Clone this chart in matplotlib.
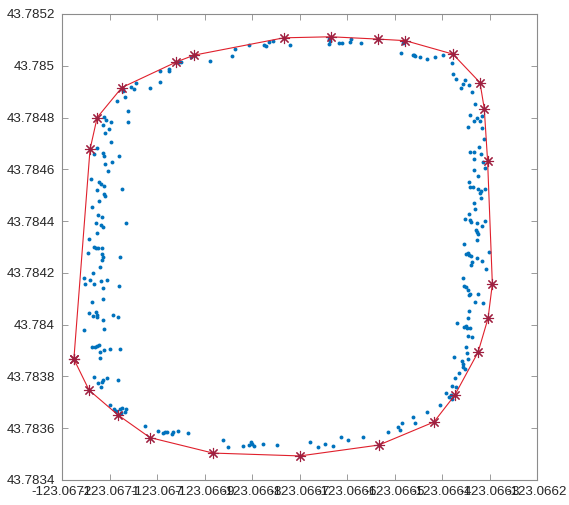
import numpy as np
import matplotlib
matplotlib.use("Agg")
import matplotlib.pyplot as plt

# GPS points around a block, offsets in 1e-6 degree from the lower-left corner
lon0 = -123.0672
lat0 = 43.7834

# left side
left_dlon = [128, 128, 145, 152, 156, 133, 116, 139, 139, 88, 93, 103, 86, 99, 91, 103,
             74, 67, 86, 88, 120, 105, 91, 97, 61, 78, 82, 88, 74, 88, 91, 78, 126,
             63, 76, 84, 72, 82, 86, 74, 135, 57, 55, 67, 72, 76, 84, 84, 86, 84, 80, 122,
             65, 46, 48, 59, 67, 82, 95, 86, 120, 63, 86, 57, 72, 74, 65, 74, 86, 107, 118,
             46, 88, 63, 69, 78, 74, 88, 80, 101, 122, 80, 67, 76, 86, 84, 95, 82, 118,
             101, 109, 114, 122, 126, 135, 133, 124]
left_dlat = [1510, 1502, 1517, 1510, 1533, 1479, 1463, 1425, 1382, 1402, 1390, 1382, 1371, 1355, 1340, 1305,
             1282, 1259, 1263, 1251, 1251, 1228, 1220, 1193, 1162, 1151, 1143, 1135, 1120, 1104, 1097, 1077, 1124,
             1054, 1023, 1015, 992, 985, 977, 954, 992, 931, 876, 900, 896, 896, 896, 873, 861, 849, 822, 861,
             799, 780, 757, 772, 757, 768, 772, 741, 749, 687, 699, 645, 649, 637, 633, 629, 618, 637, 629,
             579, 583, 514, 514, 521, 517, 502, 494, 506, 506, 471, 398, 375, 386, 378, 394, 359, 386,
             290, 274, 266, 274, 278, 274, 263, 259]

# bottom side
bottom_dlon = [175, 202, 213, 217, 221, 232, 234, 244, 265, 339, 349, 381, 394, 398, 400, 404,
               423, 453, 522, 539, 554, 570, 587, 602, 634, 686, 707, 716, 711, 739, 743, 768]
bottom_dlat = [208, 189, 181, 185, 185, 178, 185, 189, 181, 154, 127, 131, 135, 147, 139, 131,
               139, 135, 147, 127, 139, 131, 166, 154, 166, 185, 205, 220, 193, 243, 220, 263]

# right side
right_dlon = [796, 808, 815, 819, 821, 821, 829, 827, 836, 850, 853, 825, 842, 844, 844, 848, 855,
              831, 846, 850, 853, 859, 855, 863, 857, 855, 844, 846, 850, 855, 857, 859, 869, 886, 876,
              846, 850, 855, 857, 861, 863, 861, 874, 884, 893, 899, 874, 874, 876,
              867, 869, 857, 848, 859, 861, 874, 890, 884, 872, 857, 859, 865, 876, 880, 882, 882, 890,
              859, 867, 878, 867, 882, 886, 890, 867, 876, 869, 859, 867, 874, 880, 884, 855, 884, 888,
              823, 829, 848, 844, 840, 857, 863, 821]
right_dlat = [290, 336, 320, 328, 313, 363, 359, 394, 413, 514, 490, 475, 459, 448, 436, 429, 467,
              606, 591, 595, 587, 587, 556, 552, 653, 625, 780, 749, 745, 734, 714, 718, 687, 683, 718,
              911, 873, 876, 869, 865, 842, 830, 857, 846, 815, 880, 927, 958, 950,
              1069, 1046, 1027, 1008, 1004, 996, 992, 1000, 981, 965, 1151, 1131, 1131, 1124, 1108, 1116, 1089, 1124,
              1266, 1266, 1286, 1239, 1259, 1228, 1205, 1197, 1174, 1452, 1409, 1386, 1398, 1386, 1405, 1363, 1359, 1317,
              1568, 1548, 1544, 1529, 1514, 1525, 1498, 1610]

# top side
top_dlon = [718, 714, 739, 741, 743, 754, 768, 785, 802, 562, 562, 564, 583, 589, 606, 608, 629,
            480, 358, 364, 394, 425, 429, 436, 444, 312, 272, 280, 246, 250, 225, 225, 206, 206, 185]
top_dlat = [1687, 1649, 1641, 1641, 1637, 1633, 1625, 1633, 1641, 1703, 1683, 1695, 1687, 1687, 1691, 1703, 1687,
            1680, 1637, 1664, 1680, 1680, 1676, 1691, 1695, 1618, 1633, 1641, 1614, 1614, 1587, 1579, 1579, 1537, 1514]

# convex hull vertices (in order)
hull_dlon = [25, 57, 118, 185, 318, 501, 667, 783, 827, 876, 897, 906, 896, 889, 880, 823,
             723, 666, 566, 467, 278, 241, 126, 74, 59, 25]
hull_dlat = [467, 347, 251, 164, 104, 93, 135, 224, 328, 494, 625, 757, 1232, 1434, 1535, 1645,
             1697, 1703, 1712, 1708, 1641, 1615, 1516, 1400, 1277, 467]

dlon = np.array(left_dlon + bottom_dlon + right_dlon + top_dlon + hull_dlon[:-1])
dlat = np.array(left_dlat + bottom_dlat + right_dlat + top_dlat + hull_dlat[:-1])
lon = lon0 + dlon * 1e-6
lat = lat0 + dlat * 1e-6
hlon = lon0 + np.array(hull_dlon) * 1e-6
hlat = lat0 + np.array(hull_dlat) * 1e-6

plt.rcParams['font.family'] = ['Liberation Sans', 'DejaVu Sans']

fig = plt.figure(figsize=(5.69, 5.05), dpi=100)
fig.patch.set_facecolor('white')
ax = fig.add_axes([62 / 569, 25 / 505, 475 / 569, 466 / 505])

ax.plot(lon, lat, 'o', color='#0072BD', markersize=2.8, markeredgewidth=0)
ax.plot(hlon, hlat, '-', color='#e0202c', linewidth=0.8,
        marker=(8, 2, 0), markersize=8, markeredgecolor='#a02040', markeredgewidth=0.8)

ax.set_xlim(-123.0672, -123.0662)
ax.set_ylim(43.7834, 43.7852)
xt = np.linspace(-123.0672, -123.0662, 11)
yt = np.linspace(43.7834, 43.7852, 10)
ax.set_xticks(xt)
ax.set_yticks(yt)
ax.set_xticklabels([f"{round(v, 4):.10g}" for v in xt])
ax.set_yticklabels([f"{round(v, 4):.10g}" for v in yt])

for s in ax.spines.values():
    s.set_color('#8c8c8c')
    s.set_linewidth(0.8)
ax.tick_params(direction='in', length=4, width=0.6, color='#8c8c8c',
               labelsize=9.6, labelcolor='#262626', top=True, right=True)
ax.tick_params(axis='x', pad=4)
ax.tick_params(axis='y', pad=5)

fig.savefig('out.png', dpi=100, facecolor='white')
